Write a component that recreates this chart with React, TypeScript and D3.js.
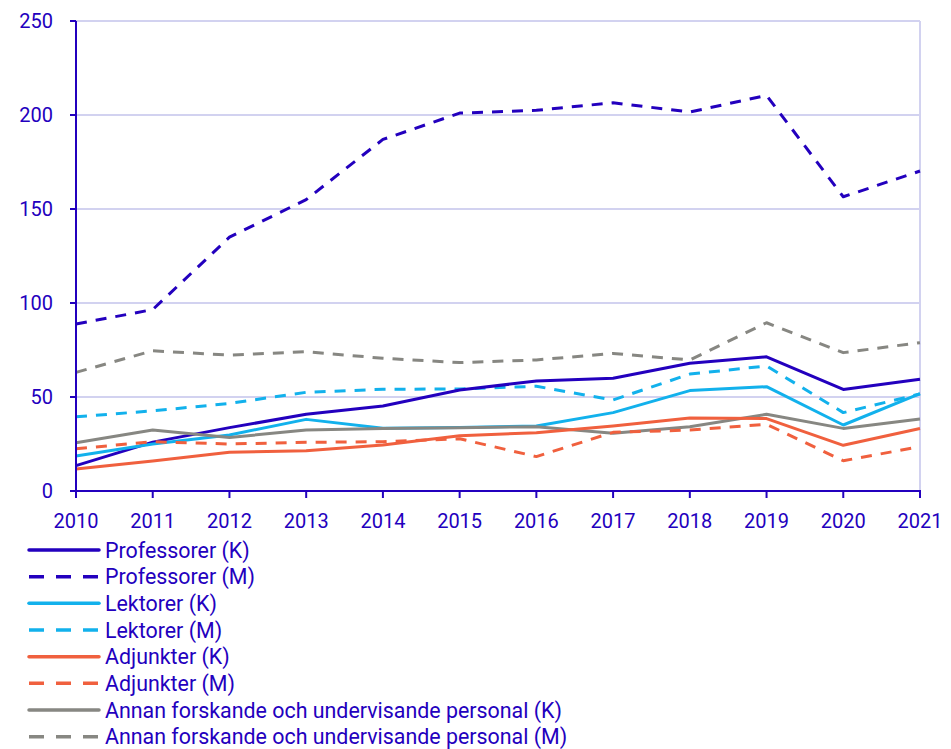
import React from "react";
import * as d3 from "d3";

const years = [2010, 2011, 2012, 2013, 2014, 2015, 2016, 2017, 2018, 2019, 2020, 2021];
const profK = [13.5, 26, 33.7, 40.8, 45.2, 53.7, 58.5, 60, 68, 71.4, 54, 59.4];
const profM = [88.8, 96.5, 135, 155, 187, 201, 202.5, 206.5, 201.6, 210.4, 156.5, 170.2];
const lekK = [18.6, 25, 29.8, 38.1, 33.4, 33.8, 34.6, 41.7, 53.4, 55.5, 35.1, 51.8];
const lekM = [39.5, 42.6, 46.6, 52.5, 54.1, 54.3, 55.7, 48.4, 62.2, 66.5, 41.7, 51.6];
const adjK = [11.7, 16, 20.6, 21.4, 24.5, 29.4, 31, 34.6, 38.8, 38.5, 24.3, 33.2];
const adjM = [22.5, 26.2, 25, 25.9, 26.2, 27.8, 18.3, 31.2, 32.4, 35.5, 16.1, 23.6];
const annK = [25.7, 32.4, 28.5, 32.4, 33.3, 33.7, 34.2, 30.7, 34.2, 40.8, 33.3, 38.3];
const annM = [63.1, 74.6, 72.3, 74.1, 70.6, 68.3, 69.7, 73.2, 69.7, 89.5, 73.6, 78.9];
const seriesNames = [
  "Professorer (K)",
  "Professorer (M)",
  "Lektorer (K)",
  "Lektorer (M)",
  "Adjunkter (K)",
  "Adjunkter (M)",
  "Annan forskande och undervisande personal (K)",
  "Annan forskande och undervisande personal (M)",
];
const yTicks = [0, 50, 100, 150, 200, 250];

const DARK = "#2300be";
const LIGHT = "#12b1ec";
const ORANGE = "#f0603e";
const GRAY = "#878782";
const TEXT = "#2300be";

const series = [
  { name: seriesNames[0], values: profK, color: DARK, dashed: false },
  { name: seriesNames[1], values: profM, color: DARK, dashed: true },
  { name: seriesNames[2], values: lekK, color: LIGHT, dashed: false },
  { name: seriesNames[3], values: lekM, color: LIGHT, dashed: true },
  { name: seriesNames[4], values: adjK, color: ORANGE, dashed: false },
  { name: seriesNames[5], values: adjM, color: ORANGE, dashed: true },
  { name: seriesNames[6], values: annK, color: GRAY, dashed: false },
  { name: seriesNames[7], values: annM, color: GRAY, dashed: true },
];

export default function App() {
  const W = 951;
  const H = 749;
  const left = 76;
  const right = 920;
  const top = 21;
  const bottom = 491;
  const x = d3.scaleLinear().domain([2010, 2021]).range([left, right]);
  const y = d3.scaleLinear().domain([0, 250]).range([bottom, top]);
  const line = d3
    .line<number>()
    .x((_, i) => x(years[i]))
    .y((d) => y(d));
  const drawOrder = [1, 7, 3, 0, 2, 6, 4, 5];
  const font = "Roboto, 'Noto Sans', sans-serif";
  return (
    <svg
      width={W}
      height={H}
      style={{ position: "absolute", left: 0, top: 0 }}
      fontFamily={font}
    >
      <rect width={W} height={H} fill="#fff" />
      {yTicks.filter((t) => t > 0).map((t) => (
        <line key={t} x1={left} x2={right} y1={y(t)} y2={y(t)} stroke="#d2d2f0" strokeWidth={2} />
      ))}
      <line x1={right} x2={right} y1={top} y2={bottom} stroke="#d2d2f0" strokeWidth={2} />
      {drawOrder.map((k) => {
        const s = series[k];
        return (
          <path
            key={s.name}
            d={line(s.values) || ""}
            fill="none"
            stroke={s.color}
            strokeWidth={3}
            strokeDasharray={s.dashed ? "11 9" : undefined}
            strokeLinejoin="round"
          />
        );
      })}
      <line x1={left} x2={left} y1={top} y2={bottom} stroke={DARK} strokeWidth={2} />
      <line x1={left} x2={right + 1} y1={bottom} y2={bottom} stroke={DARK} strokeWidth={2} />
      {yTicks.map((t) => (
        <g key={t}>
          <line x1={left - 6} x2={left} y1={y(t)} y2={y(t)} stroke={DARK} strokeWidth={2} />
          <text x={53} y={y(t) + 7} textAnchor="end" fontSize={20} fill={TEXT}>
            {t}
          </text>
        </g>
      ))}
      {years.map((yr) => (
        <g key={yr}>
          <line x1={x(yr)} x2={x(yr)} y1={bottom} y2={bottom + 7} stroke={DARK} strokeWidth={2} />
          <text x={x(yr)} y={528} textAnchor="middle" fontSize={20} fill={TEXT}>
            {yr}
          </text>
        </g>
      ))}
      {series.map((s, i) => {
        const cy = 550 + i * 26.67;
        return (
          <g key={s.name}>
            <line
              x1={29}
              x2={99}
              y1={cy}
              y2={cy}
              stroke={s.color}
              strokeWidth={3.5}
              strokeDasharray={s.dashed ? "15 12" : undefined}
              strokeLinecap={s.dashed ? "butt" : "round"}
            />
            <text x={105} y={cy + 7.5} fontSize={21.4} fill={TEXT}>
              {s.name}
            </text>
          </g>
        );
      })}
    </svg>
  );
}
